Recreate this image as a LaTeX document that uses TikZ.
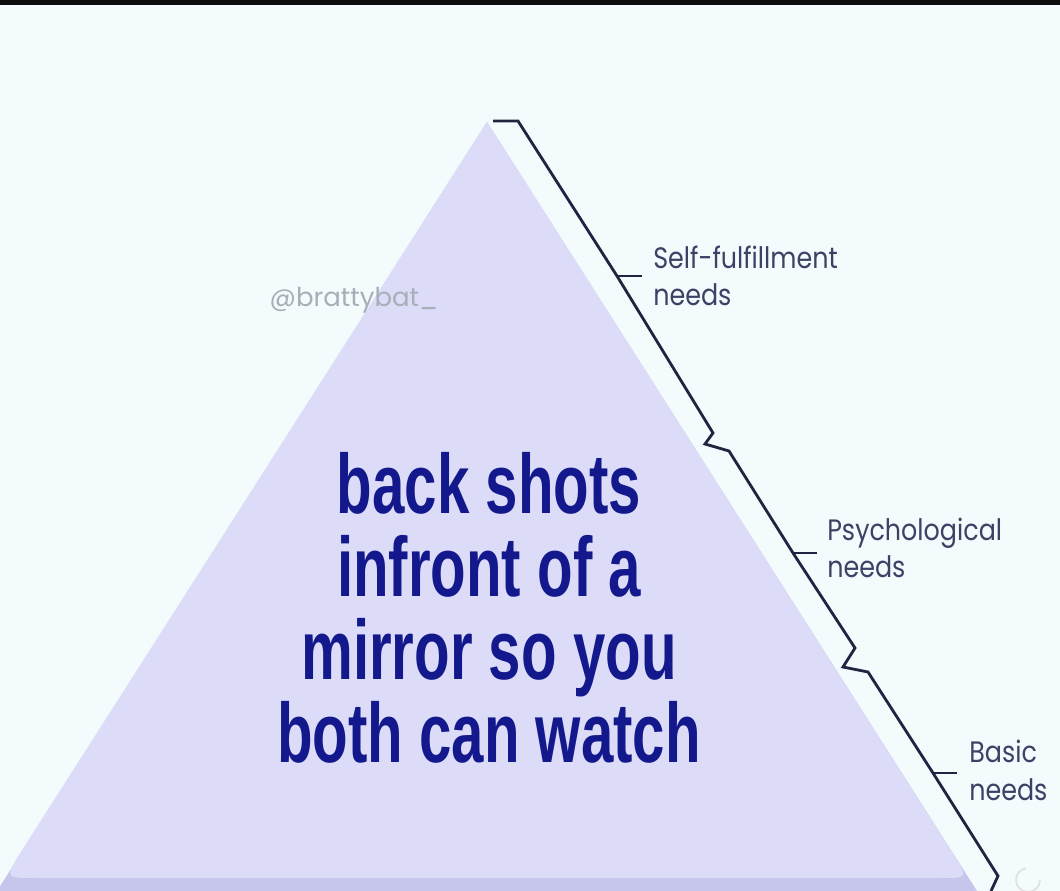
\documentclass[tikz,border=0pt]{standalone}
\usepackage{fontspec}
\usepackage{tikz}
\usetikzlibrary{positioning}
\newfontfamily\memefont[FakeStretch=0.69]{Liberation Sans}
\newfontfamily\needfont[FakeStretch=0.86]{Poppins}
\newfontfamily\handlefont{Poppins}
\definecolor{bgwhite}  {HTML}{F3FBFC}
\definecolor{pyrlight} {HTML}{DCDCF8}
\definecolor{pyrdark}  {HTML}{C6C6EC}
\definecolor{memeblue} {HTML}{13198C}
\definecolor{braceink} {HTML}{1F2540}
\definecolor{needink}  {HTML}{3B4266}
\definecolor{wmgray}   {HTML}{A9AFB9}

\begin{document}
\begin{tikzpicture}[
  x=0.025cm, y=-0.025cm,
  brace/.style ={draw=braceink,line width=2pt,line join=miter},
  need/.style  ={align=left,anchor=base west,inner sep=0pt,
                 font=\needfont\fontsize{21}{26.5}\selectfont,text=needink},
  meme/.style  ={align=center,anchor=base,inner sep=0pt,
                 font=\memefont\bfseries\fontsize{60}{59}\selectfont,text=memeblue},
  wm/.style    ={inner sep=0pt,font=\handlefont\fontsize{18.5}{20}\selectfont,text=wmgray}
]
\useasboundingbox (0,0) rectangle (1060,891);
%% Background and top bar
\fill[bgwhite] (0,0) rectangle (1060,891);
\fill[black!95] (0,0) rectangle (1060,5);
%% Pyramid: bottom level, then top level with rounded foot
\fill[pyrdark] (487,122) -- (977,891) -- (-3,891) -- cycle;
\fill[pyrlight] (487,122) -- (955,857)
  .. controls (968,878) .. (940,878) -- (36,878)
  .. controls (6,878) .. (17,858) -- cycle;
%% Braces along the right slope
\draw[brace] (493,121) -- (518,121) -- (617,276) -- (713,433)
  -- (705,444) -- (729,451) -- (793,553) -- (855,648)
  -- (843,667) -- (868,672) -- (933,773) -- (998,876) -- (991,891);
\draw[brace] (617,276) -- (642,276);
\draw[brace] (793,553) -- (817,553);
\draw[brace] (933,773) -- (957,773);
%% Level labels (base = last line)
\node[need] (selfneeds)  at (653,306) {Self-fulfillment\\needs};
\node[need] (psychneeds) at (827,578) {Psychological\\needs};
\node[need] (basicneeds) at (969,800) {Basic\\needs};
%% Watermark and main text
\node[wm] (handle) at (354,300) {@brattybat\_};
\node[meme] (meme) at (489,762)
  {back shots\\infront of a\\mirror so you\\both can watch};
%% faint icon, bottom right
\draw[gray!25,line width=1.2pt] (1040,880) arc (0:260:12);
\end{tikzpicture}
\end{document}
